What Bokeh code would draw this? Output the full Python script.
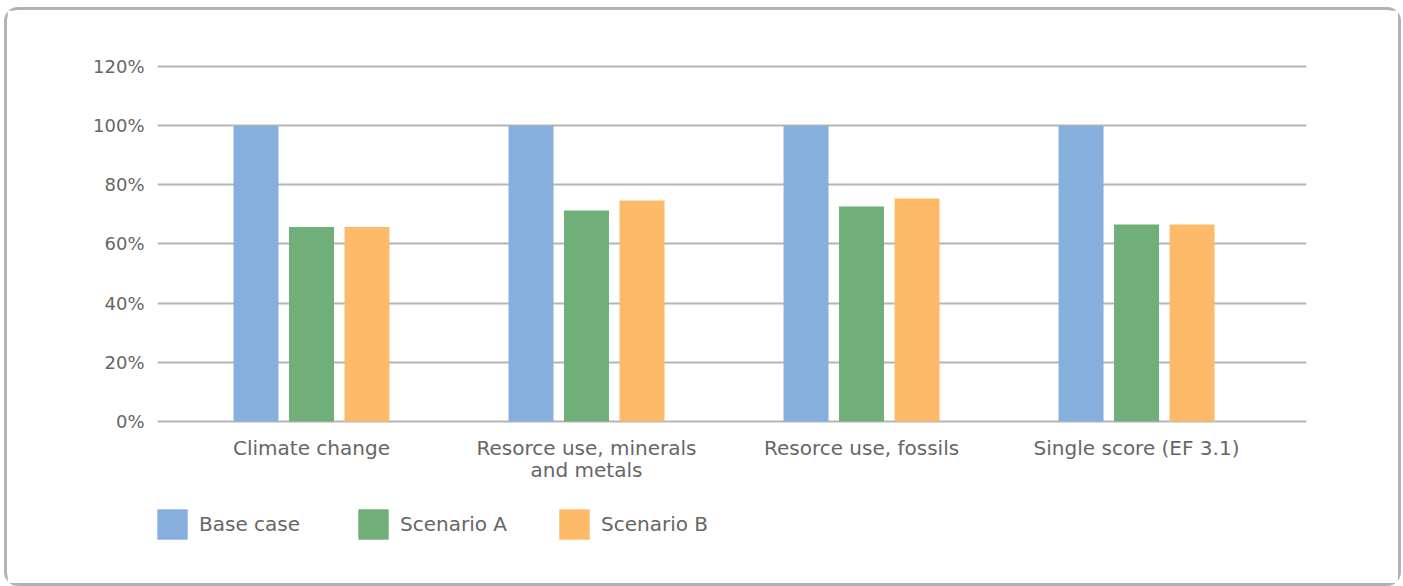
import numpy as np
from bokeh.plotting import figure
from bokeh.models import Range1d, FixedTicker, PrintfTickFormatter
from bokeh.core.properties import value
from bokeh.embed import file_html
from bokeh.resources import INLINE

categories = ["Climate change", "Resorce use, minerals\nand metals",
              "Resorce use, fossils", "Single score (EF 3.1)"]
series_names = ["Base case", "Scenario A", "Scenario B"]
base_case = [100, 100, 100, 100]
scenario_a = [65.7, 71.3, 72.7, 66.6]
scenario_b = [65.7, 74.7, 75.4, 66.6]
y_ticks = [0, 20, 40, 60, 80, 100, 120]

colors = ["#87AFDD", "#70AE7A", "#FDBB6A"]
FONT = "DejaVu Sans"
TXT = "#666666"
GRID = "#b5b5b5"

p = figure(width=1397, height=579, output_backend="svg", toolbar_location=None,
           x_range=Range1d(-0.06, 4.118), y_range=Range1d(-49.0, 121),
           min_border_left=150, min_border_right=98, min_border_top=53,
           min_border_bottom=23)
p.outline_line_color = None
p.background_fill_color = "white"
p.border_fill_color = "white"
p.styles = {"border": "3px solid #b3b3b3", "border-radius": "14px",
            "margin-left": "4px", "margin-top": "7px", "box-sizing": "border-box"}

idx = np.arange(len(categories)) + 0.5
offsets = [-0.2018, 0.0, 0.2018]
for vals, name, col, off in zip([base_case, scenario_a, scenario_b], series_names, colors, offsets):
    p.vbar(x=idx + off, top=vals, bottom=0, width=0.1636, fill_color=col,
           line_color=None, legend_label=name)

p.xgrid.visible = False
p.ygrid.grid_line_color = GRID
p.ygrid.grid_line_width = 2
p.ygrid.ticker = FixedTicker(ticks=y_ticks)

p.yaxis.ticker = FixedTicker(ticks=y_ticks)
p.yaxis.formatter = PrintfTickFormatter(format="%d%%")
p.yaxis.axis_line_color = None
p.yaxis.major_tick_line_color = None
p.yaxis.minor_tick_line_color = None
p.yaxis.major_label_standoff = 7
p.yaxis.major_label_text_font = FONT
p.yaxis.major_label_text_font_size = "18px"
p.yaxis.major_label_text_color = TXT

p.xaxis.visible = False

# category labels under the baseline (y = 0)
p.text(x=list(idx), y=[0] * len(categories), text=categories,
       text_align="center", text_baseline="top", y_offset=14,
       text_font=value(FONT), text_font_size="20px", text_color=TXT,
       text_line_height=0.92)

lg = p.legend[0]
lg.orientation = "horizontal"
lg.location = (-4, 23)
lg.glyph_width = 38
lg.glyph_height = 38
lg.label_standoff = 8
lg.label_width = 150
lg.spacing = 5
lg.padding = 0
lg.margin = 0
lg.border_line_color = None
lg.background_fill_alpha = 0
lg.label_text_font = FONT
lg.label_text_font_size = "20px"
lg.label_text_color = TXT

open("out.html", "w").write(file_html(p, INLINE))
